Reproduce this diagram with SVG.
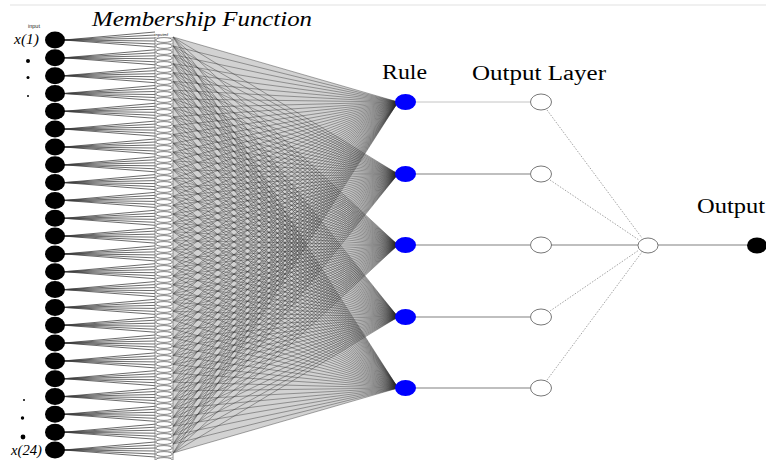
<svg xmlns="http://www.w3.org/2000/svg" xmlns:xlink="http://www.w3.org/1999/xlink" width="766" height="462" viewBox="0 0 766 462">
  <style>
    .lbl { font-family: "Liberation Serif", "Times New Roman", serif; fill: #000; }
    .ital { font-style: italic; }
    .inNode { fill: #000; }
    .rule { fill: #0000ff; }
    .outL { fill: #fff; stroke: #555; stroke-width: 0.8; }
    .fan { fill: none; stroke: #3a3a3a; stroke-width: 0.75; }
    .mfr { fill: none; stroke: #2e2e2e; stroke-width: 0.42; }
    .hull { fill: #d2d2d2; }
    .solid { stroke: #808080; stroke-width: 1.1; fill: none; }
    .dot { stroke: #8c8c8c; stroke-width: 0.8; stroke-dasharray: 1.5 1.5; fill: none; }
  </style>
  <defs>
    <!-- fan of links from one input node into its membership functions -->
    <path id="fan" class="fan" d="M64 0L155 -8M64 0L155 -5M64 0L155 -2M64 0L155 1M64 0L155 4M64 0L155 7"/>
    <ellipse id="inDot" class="inNode" cx="55" cy="0" rx="10" ry="8.5"/>
    <pattern id="mfPat" patternUnits="userSpaceOnUse" x="155" y="37" width="18" height="6">
      <rect width="18" height="6" fill="#fff"/>
      <ellipse cx="9" cy="3" rx="8.4" ry="2.4" fill="none" stroke="#4a4a4a" stroke-width="0.7"/>
      <line x1="0" y1="0.3" x2="18" y2="0.3" stroke="#9a9a9a" stroke-width="0.6"/>
    </pattern>
  </defs>

  <rect width="766" height="462" fill="#fff"/>
  <line x1="10" y1="5" x2="766" y2="5" stroke="#e2e2e2" stroke-width="1.2"/>

  <!-- labels -->
  <text class="lbl ital" x="92" y="26" font-size="22" textLength="220" lengthAdjust="spacingAndGlyphs">Membership Function</text>
  <text class="lbl" x="382" y="79" font-size="20" textLength="45" lengthAdjust="spacingAndGlyphs">Rule</text>
  <text class="lbl" x="472" y="80" font-size="20" textLength="134" lengthAdjust="spacingAndGlyphs">Output Layer</text>
  <text class="lbl" x="697" y="213" font-size="20" textLength="68" lengthAdjust="spacingAndGlyphs">Output</text>
  <text class="lbl ital" x="14" y="44" font-size="14" textLength="25" lengthAdjust="spacingAndGlyphs">x(1)</text>
  <text class="lbl ital" x="11" y="455" font-size="14" textLength="31" lengthAdjust="spacingAndGlyphs">x(24)</text>
  <text x="28" y="28" font-family="Liberation Sans, Arial, sans-serif" font-size="5.5" fill="#222">input</text>
  <text x="154.5" y="36.2" font-family="Liberation Sans, Arial, sans-serif" font-size="4.2" fill="#222">inputmf</text>

  <!-- ellipsis dots -->
  <circle cx="28" cy="61" r="2" fill="#000"/>
  <circle cx="28" cy="77.5" r="1.5" fill="#000"/>
  <circle cx="28" cy="96" r="1" fill="#000"/>
  <circle cx="24" cy="400" r="1" fill="#000"/>
  <circle cx="22.5" cy="418" r="1.7" fill="#000"/>
  <circle cx="23" cy="437" r="2.4" fill="#000"/>

  <g id="connectors">
    <!-- shaded hull of membership-to-rule links -->
    <polygon class="hull" points="173,37 398,102 173,453"/>
    <polygon class="hull" points="173,37 398,174 173,453"/>
    <polygon class="hull" points="173,37 398,245 173,453"/>
    <polygon class="hull" points="173,37 398,317 173,453"/>
    <polygon class="hull" points="173,37 398,388 173,453"/>

    <!-- input fans -->
    <use href="#fan" y="40"/><use href="#fan" y="57.8"/><use href="#fan" y="75.7"/><use href="#fan" y="93.5"/>
    <use href="#fan" y="111.3"/><use href="#fan" y="129.1"/><use href="#fan" y="147"/><use href="#fan" y="164.8"/>
    <use href="#fan" y="182.6"/><use href="#fan" y="200.4"/><use href="#fan" y="218.3"/><use href="#fan" y="236.1"/>
    <use href="#fan" y="253.9"/><use href="#fan" y="271.7"/><use href="#fan" y="289.6"/><use href="#fan" y="307.4"/>
    <use href="#fan" y="325.2"/><use href="#fan" y="343"/><use href="#fan" y="360.9"/><use href="#fan" y="378.7"/>
    <use href="#fan" y="396.5"/><use href="#fan" y="414.3"/><use href="#fan" y="432.2"/><use href="#fan" y="450"/>

    <!-- membership functions to rules -->
    <path class="mfr" d="M173 37L398 102M173 45.9L398 102M173 54.7L398 102M173 63.6L398 102M173 72.4L398 102M173 81.3L398 102M173 90.1L398 102M173 99L398 102M173 107.8L398 102M173 116.7L398 102M173 125.5L398 102M173 134.4L398 102M173 143.2L398 102M173 152.1L398 102M173 160.9L398 102M173 169.8L398 102M173 178.6L398 102M173 187.5L398 102M173 196.3L398 102M173 205.2L398 102M173 214L398 102M173 222.9L398 102M173 231.7L398 102M173 240.6L398 102M173 249.4L398 102M173 258.3L398 102M173 267.1L398 102M173 276L398 102M173 284.8L398 102M173 293.7L398 102M173 302.5L398 102M173 311.4L398 102M173 320.2L398 102M173 329.1L398 102M173 337.9L398 102M173 346.8L398 102M173 355.6L398 102M173 364.5L398 102M173 373.3L398 102M173 382.2L398 102M173 391L398 102M173 399.9L398 102M173 408.7L398 102M173 417.6L398 102M173 426.4L398 102M173 435.3L398 102M173 444.1L398 102M173 453L398 102"/>
    <path class="mfr" d="M173 37L398 174M173 45.9L398 174M173 54.7L398 174M173 63.6L398 174M173 72.4L398 174M173 81.3L398 174M173 90.1L398 174M173 99L398 174M173 107.8L398 174M173 116.7L398 174M173 125.5L398 174M173 134.4L398 174M173 143.2L398 174M173 152.1L398 174M173 160.9L398 174M173 169.8L398 174M173 178.6L398 174M173 187.5L398 174M173 196.3L398 174M173 205.2L398 174M173 214L398 174M173 222.9L398 174M173 231.7L398 174M173 240.6L398 174M173 249.4L398 174M173 258.3L398 174M173 267.1L398 174M173 276L398 174M173 284.8L398 174M173 293.7L398 174M173 302.5L398 174M173 311.4L398 174M173 320.2L398 174M173 329.1L398 174M173 337.9L398 174M173 346.8L398 174M173 355.6L398 174M173 364.5L398 174M173 373.3L398 174M173 382.2L398 174M173 391L398 174M173 399.9L398 174M173 408.7L398 174M173 417.6L398 174M173 426.4L398 174M173 435.3L398 174M173 444.1L398 174M173 453L398 174"/>
    <path class="mfr" d="M173 37L398 245M173 45.9L398 245M173 54.7L398 245M173 63.6L398 245M173 72.4L398 245M173 81.3L398 245M173 90.1L398 245M173 99L398 245M173 107.8L398 245M173 116.7L398 245M173 125.5L398 245M173 134.4L398 245M173 143.2L398 245M173 152.1L398 245M173 160.9L398 245M173 169.8L398 245M173 178.6L398 245M173 187.5L398 245M173 196.3L398 245M173 205.2L398 245M173 214L398 245M173 222.9L398 245M173 231.7L398 245M173 240.6L398 245M173 249.4L398 245M173 258.3L398 245M173 267.1L398 245M173 276L398 245M173 284.8L398 245M173 293.7L398 245M173 302.5L398 245M173 311.4L398 245M173 320.2L398 245M173 329.1L398 245M173 337.9L398 245M173 346.8L398 245M173 355.6L398 245M173 364.5L398 245M173 373.3L398 245M173 382.2L398 245M173 391L398 245M173 399.9L398 245M173 408.7L398 245M173 417.6L398 245M173 426.4L398 245M173 435.3L398 245M173 444.1L398 245M173 453L398 245"/>
    <path class="mfr" d="M173 37L398 317M173 45.9L398 317M173 54.7L398 317M173 63.6L398 317M173 72.4L398 317M173 81.3L398 317M173 90.1L398 317M173 99L398 317M173 107.8L398 317M173 116.7L398 317M173 125.5L398 317M173 134.4L398 317M173 143.2L398 317M173 152.1L398 317M173 160.9L398 317M173 169.8L398 317M173 178.6L398 317M173 187.5L398 317M173 196.3L398 317M173 205.2L398 317M173 214L398 317M173 222.9L398 317M173 231.7L398 317M173 240.6L398 317M173 249.4L398 317M173 258.3L398 317M173 267.1L398 317M173 276L398 317M173 284.8L398 317M173 293.7L398 317M173 302.5L398 317M173 311.4L398 317M173 320.2L398 317M173 329.1L398 317M173 337.9L398 317M173 346.8L398 317M173 355.6L398 317M173 364.5L398 317M173 373.3L398 317M173 382.2L398 317M173 391L398 317M173 399.9L398 317M173 408.7L398 317M173 417.6L398 317M173 426.4L398 317M173 435.3L398 317M173 444.1L398 317M173 453L398 317"/>
    <path class="mfr" d="M173 37L398 388M173 45.9L398 388M173 54.7L398 388M173 63.6L398 388M173 72.4L398 388M173 81.3L398 388M173 90.1L398 388M173 99L398 388M173 107.8L398 388M173 116.7L398 388M173 125.5L398 388M173 134.4L398 388M173 143.2L398 388M173 152.1L398 388M173 160.9L398 388M173 169.8L398 388M173 178.6L398 388M173 187.5L398 388M173 196.3L398 388M173 205.2L398 388M173 214L398 388M173 222.9L398 388M173 231.7L398 388M173 240.6L398 388M173 249.4L398 388M173 258.3L398 388M173 267.1L398 388M173 276L398 388M173 284.8L398 388M173 293.7L398 388M173 302.5L398 388M173 311.4L398 388M173 320.2L398 388M173 329.1L398 388M173 337.9L398 388M173 346.8L398 388M173 355.6L398 388M173 364.5L398 388M173 373.3L398 388M173 382.2L398 388M173 391L398 388M173 399.9L398 388M173 408.7L398 388M173 417.6L398 388M173 426.4L398 388M173 435.3L398 388M173 444.1L398 388M173 453L398 388"/>

    <!-- rules to output layer -->
    <line x1="415" y1="102" x2="530" y2="102" stroke="#c4c4c4" stroke-width="1"/>
    <line class="solid" x1="415" y1="174" x2="530" y2="174"/>
    <line class="solid" x1="415" y1="245" x2="530" y2="245"/>
    <line class="solid" x1="415" y1="317" x2="530" y2="317"/>
    <line class="solid" x1="415" y1="388" x2="530" y2="388"/>

    <!-- output layer to aggregation -->
    <line class="dot" x1="547" y1="110" x2="642" y2="238"/>
    <line class="dot" x1="550" y1="180" x2="639" y2="240"/>
    <line class="solid" x1="551" y1="245" x2="638" y2="245"/>
    <line class="dot" x1="550" y1="311" x2="639" y2="250"/>
    <line class="dot" x1="547" y1="380" x2="642" y2="252"/>

    <!-- aggregation to output -->
    <line class="solid" x1="658" y1="245" x2="748" y2="245"/>
  </g>

  <!-- membership function column -->
  <g id="membership">
    <rect x="155" y="37" width="18" height="423" fill="url(#mfPat)"/>
    <line x1="155" y1="37" x2="155" y2="460" stroke="#777" stroke-width="0.8"/>
    <line x1="173" y1="37" x2="173" y2="460" stroke="#777" stroke-width="0.8"/>
  </g>

  <!-- input nodes -->
  <g id="in1"><use href="#inDot" y="40"/></g>
  <g id="in2"><use href="#inDot" y="57.8"/></g>
  <g id="in3"><use href="#inDot" y="75.7"/></g>
  <g id="in4"><use href="#inDot" y="93.5"/></g>
  <g id="in5"><use href="#inDot" y="111.3"/></g>
  <g id="in6"><use href="#inDot" y="129.1"/></g>
  <g id="in7"><use href="#inDot" y="147"/></g>
  <g id="in8"><use href="#inDot" y="164.8"/></g>
  <g id="in9"><use href="#inDot" y="182.6"/></g>
  <g id="in10"><use href="#inDot" y="200.4"/></g>
  <g id="in11"><use href="#inDot" y="218.3"/></g>
  <g id="in12"><use href="#inDot" y="236.1"/></g>
  <g id="in13"><use href="#inDot" y="253.9"/></g>
  <g id="in14"><use href="#inDot" y="271.7"/></g>
  <g id="in15"><use href="#inDot" y="289.6"/></g>
  <g id="in16"><use href="#inDot" y="307.4"/></g>
  <g id="in17"><use href="#inDot" y="325.2"/></g>
  <g id="in18"><use href="#inDot" y="343"/></g>
  <g id="in19"><use href="#inDot" y="360.9"/></g>
  <g id="in20"><use href="#inDot" y="378.7"/></g>
  <g id="in21"><use href="#inDot" y="396.5"/></g>
  <g id="in22"><use href="#inDot" y="414.3"/></g>
  <g id="in23"><use href="#inDot" y="432.2"/></g>
  <g id="in24"><use href="#inDot" y="450"/></g>

  <!-- rule nodes -->
  <g id="rule1"><ellipse class="rule" cx="405.5" cy="102" rx="10.5" ry="8"/></g>
  <g id="rule2"><ellipse class="rule" cx="405.5" cy="174" rx="10.5" ry="8"/></g>
  <g id="rule3"><ellipse class="rule" cx="405.5" cy="245" rx="10.5" ry="8"/></g>
  <g id="rule4"><ellipse class="rule" cx="405.5" cy="317" rx="10.5" ry="8"/></g>
  <g id="rule5"><ellipse class="rule" cx="405.5" cy="388" rx="10.5" ry="8"/></g>

  <!-- output layer nodes -->
  <g id="out1"><ellipse class="outL" cx="541" cy="102" rx="10.5" ry="8"/></g>
  <g id="out2"><ellipse class="outL" cx="541" cy="174" rx="10.5" ry="8"/></g>
  <g id="out3"><ellipse class="outL" cx="541" cy="245" rx="10.5" ry="8"/></g>
  <g id="out4"><ellipse class="outL" cx="541" cy="317" rx="10.5" ry="8"/></g>
  <g id="out5"><ellipse class="outL" cx="541" cy="388" rx="10.5" ry="8"/></g>

  <!-- aggregation node -->
  <g id="aggregate"><ellipse class="outL" cx="648" cy="245.5" rx="10" ry="7.5"/></g>

  <!-- final output node -->
  <g id="output"><ellipse cx="757" cy="245.5" rx="10" ry="8" fill="#000"/></g>
</svg>
